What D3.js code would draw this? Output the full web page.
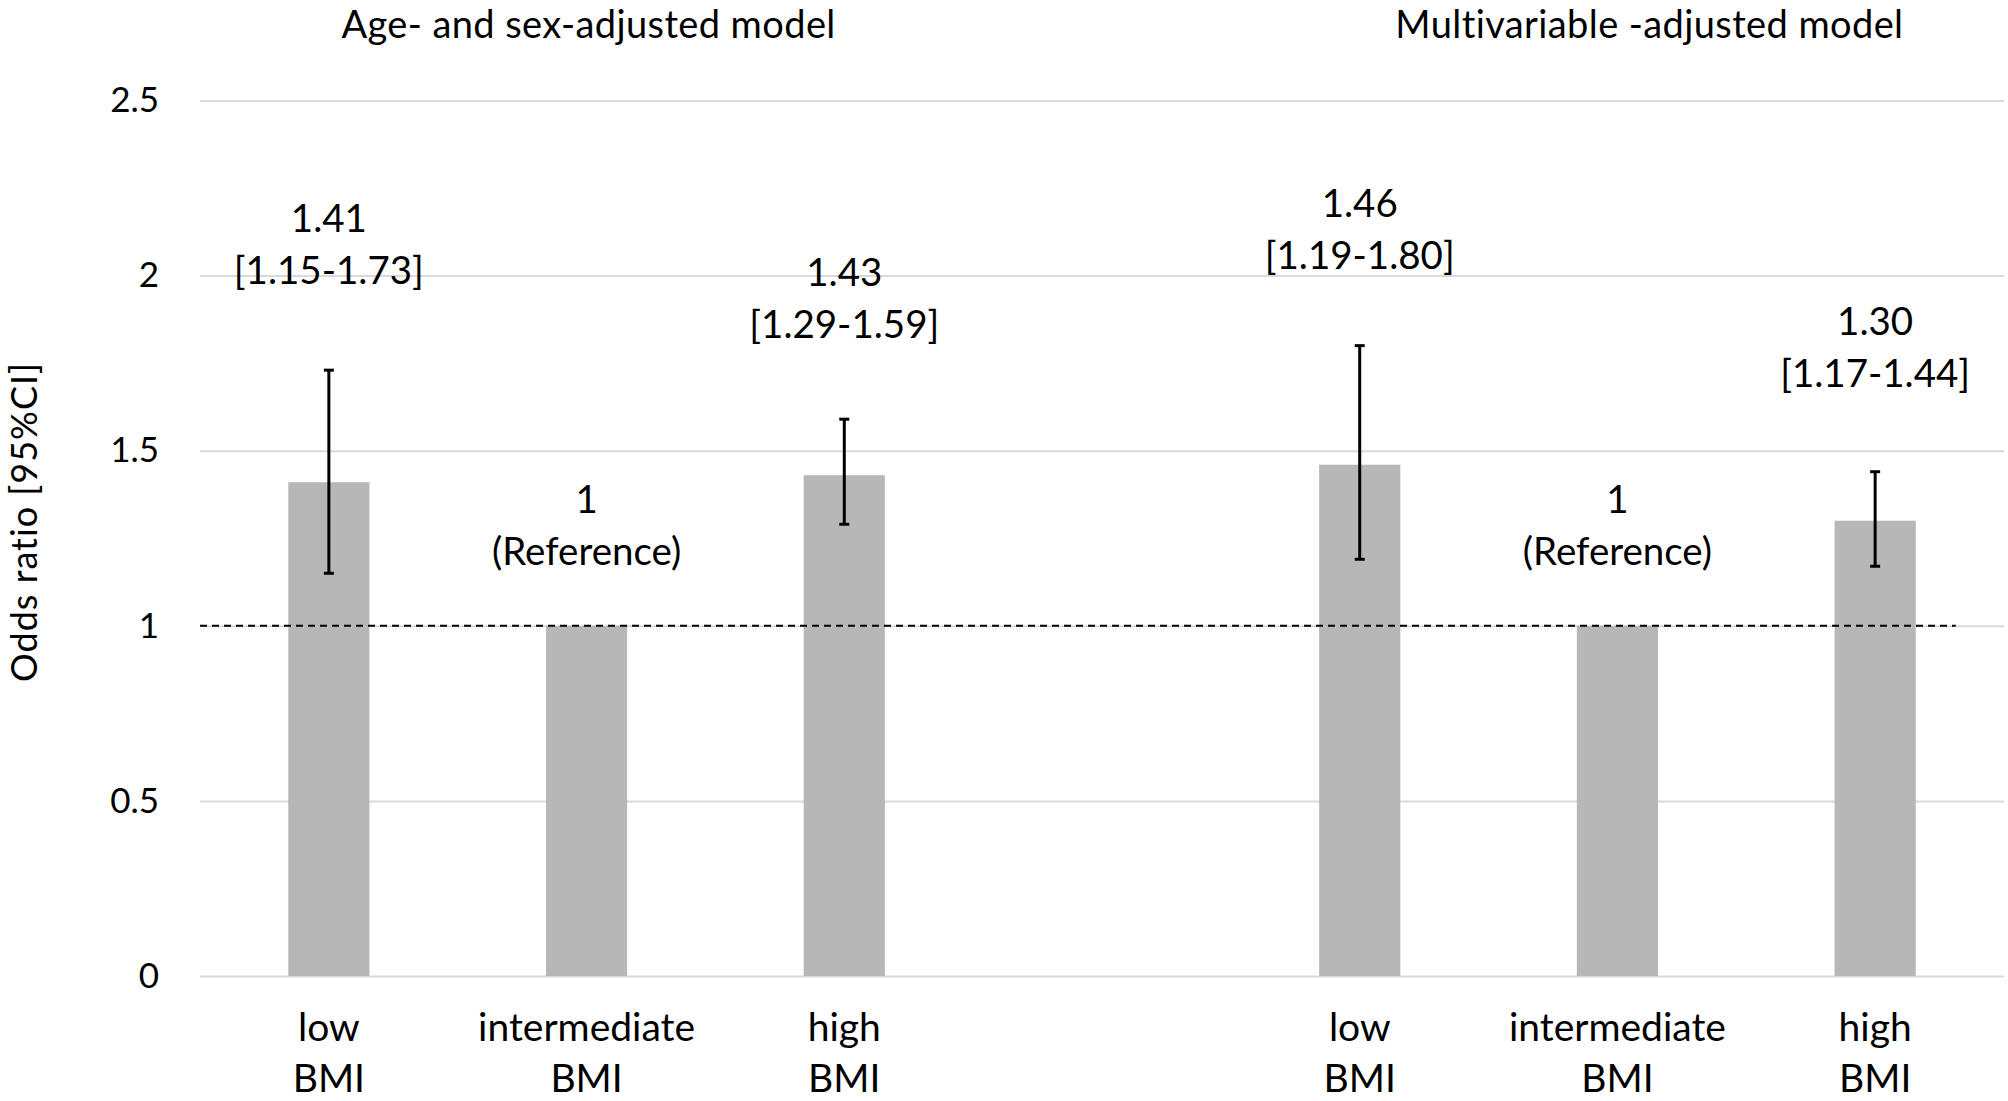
<!DOCTYPE html>
<html>
<head>
<meta charset="utf-8">
<script src="https://cdn.jsdelivr.net/npm/d3@7.9.0/dist/d3.min.js"></script>
<style>
  html, body { margin: 0; padding: 0; background: #fff; }
  svg { display: block; font-family: Lato, 'Open Sans', sans-serif; }
</style>
</head>
<body>
<svg id="chart" width="2008" height="1101"></svg>
<script>
// ---- data ----
const models = ['Age- and sex-adjusted model', 'Multivariable -adjusted model'];
const categories = [['low', 'BMI'], ['intermediate', 'BMI'], ['high', 'BMI']];

const ageSexOR   = [1.41, 1.00, 1.43];
const ageSexLow  = [1.15, null, 1.29];
const ageSexHigh = [1.73, null, 1.59];

const multiOR   = [1.46, 1.00, 1.30];
const multiLow  = [1.19, null, 1.17];
const multiHigh = [1.80, null, 1.44];

const yTicks = [0, 0.5, 1, 1.5, 2, 2.5];
const refValue = 1;

// ---- layout (not data) ----
const plot = { left: 200, right: 2004, top: 100.5, bottom: 976 };
const labelNudge = [[-4, 0, 1], [5, 0, -3]];   // hand-placed labels in the original
const titleShift = [2, 32];

const svg = d3.select('#chart');

// one slot per bar, with an empty slot between the two models
let rows = [];
[[ageSexOR, ageSexLow, ageSexHigh], [multiOR, multiLow, multiHigh]].forEach(([or, lo, hi], m) => {
  categories.forEach((c, i) => {
    rows.push({ key: `${m}-${i}`, model: m, cat: i, or: or[i], lo: lo[i], hi: hi[i] });
  });
});
const slots = [...rows.slice(0, 3).map(d => d.key), 'gap', ...rows.slice(3).map(d => d.key)];

const x = d3.scaleBand()
  .domain(slots)
  .range([plot.left, plot.right])
  .paddingInner(0.685)
  .paddingOuter(0.3425);

const y = d3.scaleLinear()
  .domain([0, 2.5])
  .range([plot.bottom, plot.top]);

// 1. gridlines + tick labels
const yAxis = d3.axisLeft(y)
  .tickValues(yTicks)
  .tickFormat(d => String(d))
  .tickSizeInner(-(plot.right - plot.left))
  .tickSizeOuter(0)
  .tickPadding(41);

const gy = svg.append('g')
  .attr('transform', `translate(${plot.left},0)`)
  .call(yAxis);
gy.select('.domain').remove();
gy.selectAll('.tick line').attr('stroke', '#d9d9d9').attr('stroke-width', 2);
gy.selectAll('.tick text')
  .attr('font-size', 35)
  .attr('fill', '#000')
  .attr('font-family', 'Lato, sans-serif');

// 2. bars
svg.append('g').selectAll('rect')
  .data(rows)
  .join('rect')
  .attr('x', d => x(d.key))
  .attr('width', x.bandwidth())
  .attr('y', d => y(d.or))
  .attr('height', d => y(0) - y(d.or))
  .attr('fill', '#b7b7b7');

// 3. reference line at OR = 1
const lastKey = slots[slots.length - 1];
svg.append('line')
  .attr('x1', plot.left)
  .attr('x2', x(lastKey) + x.bandwidth() + 40)
  .attr('y1', y(refValue))
  .attr('y2', y(refValue))
  .attr('stroke', '#000')
  .attr('stroke-width', 2)
  .attr('stroke-dasharray', '7 5');

// 4. error bars
const ci = rows.filter(d => d.lo != null);
const cx = d => x(d.key) + x.bandwidth() / 2;
const capW = 5;
const eb = svg.append('g').attr('stroke', '#000').attr('stroke-width', 3);
eb.selectAll('.stem').data(ci).join('line')
  .attr('x1', cx).attr('x2', cx)
  .attr('y1', d => y(d.lo)).attr('y2', d => y(d.hi));
eb.selectAll('.capTop').data(ci).join('line')
  .attr('x1', d => cx(d) - capW).attr('x2', d => cx(d) + capW)
  .attr('y1', d => y(d.hi)).attr('y2', d => y(d.hi));
eb.selectAll('.capBot').data(ci).join('line')
  .attr('x1', d => cx(d) - capW).attr('x2', d => cx(d) + capW)
  .attr('y1', d => y(d.lo)).attr('y2', d => y(d.lo));

// 5. value labels
const lineGap = 52;
rows.forEach(d => {
  const isRef = d.lo == null;
  const base = isRef ? y(d.or) - 113 : y(d.hi) - 134;
  const by = base + labelNudge[d.model][d.cat];
  const lines = isRef
    ? ['1', '(Reference)']
    : [d.or.toFixed(2), `[${d.lo.toFixed(2)}-${d.hi.toFixed(2)}]`];
  const t = svg.append('text')
    .attr('text-anchor', 'middle')
    .attr('font-size', 38.5)
    .attr('fill', '#000');
  lines.forEach((s, k) => {
    t.append('tspan').attr('x', cx(d)).attr('y', by + k * lineGap).text(s);
  });
});

// 6. category labels under the bars
rows.forEach(d => {
  const t = svg.append('text')
    .attr('text-anchor', 'middle')
    .attr('font-size', 39)
    .attr('fill', '#000');
  categories[d.cat].forEach((s, k) => {
    t.append('tspan').attr('x', cx(d)).attr('y', 1041 + k * 51).text(s);
  });
});

// 7. model titles over each group
models.forEach((m, i) => {
  const mid = rows.find(d => d.model === i && d.cat === 1);
  svg.append('text')
    .attr('x', cx(mid) + titleShift[i])
    .attr('y', 38)
    .attr('text-anchor', 'middle')
    .attr('font-size', 38)
    .attr('letter-spacing', 0.4)
    .attr('fill', '#000')
    .text(m);
});

// 8. y-axis title
svg.append('text')
  .attr('transform', `translate(37,522) rotate(-90)`)
  .attr('text-anchor', 'middle')
  .attr('font-size', 36)
  .attr('letter-spacing', 1)
  .attr('fill', '#000')
  .text('Odds ratio [95%CI]');
</script>
</body>
</html>
